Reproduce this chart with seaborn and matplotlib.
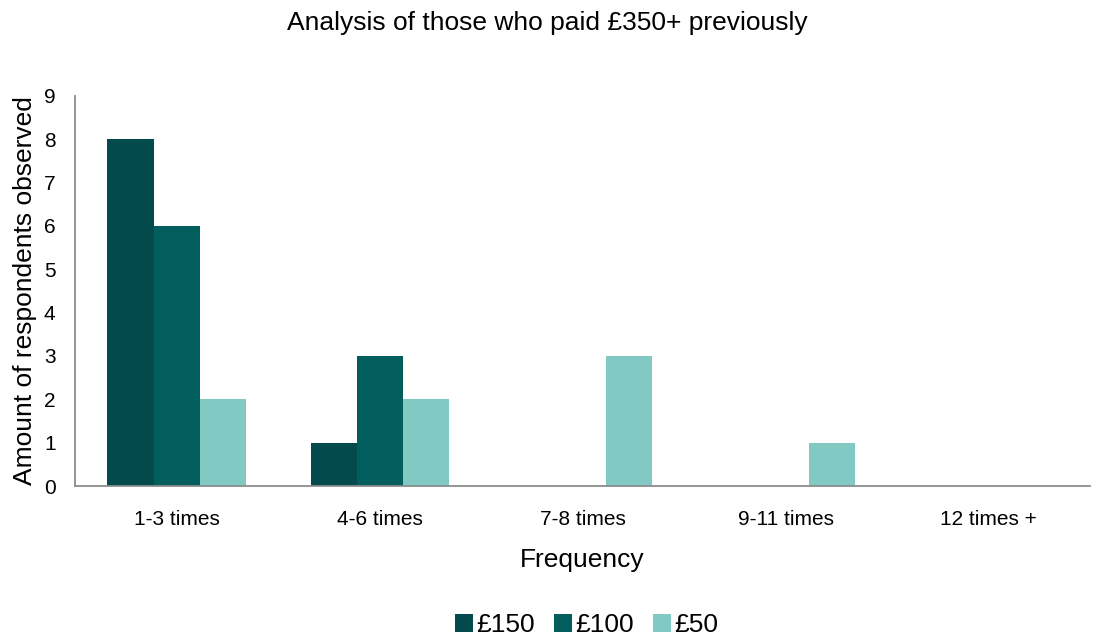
import matplotlib
matplotlib.use("Agg")
import matplotlib.pyplot as plt
import seaborn as sns
import pandas as pd

frequencies = ["1-3 times", "4-6 times", "7-8 times", "9-11 times", "12 times +"]
price_levels = ["£150", "£100", "£50"]
counts_150 = [8, 1, 0, 0, 0]
counts_100 = [6, 3, 0, 0, 0]
counts_50 = [2, 2, 3, 1, 0]
colors = ["#024a4b", "#025e5c", "#81c9c2"]
y_ticks = list(range(0, 10))

rows = []
for level, vals in zip(price_levels, [counts_150, counts_100, counts_50]):
    for freq, v in zip(frequencies, vals):
        rows.append({"Frequency": freq, "Price": level, "Count": v})
df = pd.DataFrame(rows)

sns.set_theme(style="white")
plt.rcParams["font.family"] = ["Liberation Sans", "DejaVu Sans"]
plt.rcParams["text.color"] = "#000000"
plt.rcParams["axes.labelcolor"] = "#000000"

fig = plt.figure(figsize=(10.95, 6.35), dpi=100)
ax = fig.add_axes([0.0685, 0.2346, 0.927, 0.6145])

sns.barplot(data=df, x="Frequency", y="Count", hue="Price", order=frequencies,
            hue_order=price_levels, palette=colors, width=0.68, saturation=1,
            linewidth=0, ax=ax, legend=True)

ax.set_ylim(0, 9)
ax.set_yticks(y_ticks)
ax.set_xlim(-0.5, len(frequencies) - 0.5)
ax.tick_params(axis="both", length=0, labelsize=15, colors="#000000")
ax.tick_params(axis="x", pad=17)
ax.tick_params(axis="y", pad=14)
for side in ["top", "right"]:
    ax.spines[side].set_visible(False)
for side in ["left", "bottom"]:
    ax.spines[side].set_color("#8c8c8c")
    ax.spines[side].set_linewidth(1.3)

ax.set_xlabel("Frequency", fontsize=19, labelpad=14)
ax.set_ylabel("Amount of respondents observed", fontsize=19, labelpad=5)
fig.suptitle("Analysis of those who paid £350+ previously", fontsize=19, y=0.983)

ax.legend(loc="upper center", bbox_to_anchor=(0.504, -0.298), ncol=3, frameon=False,
          fontsize=19, handlelength=0.68, handleheight=0.68, handletextpad=0.15,
          columnspacing=0.7, borderaxespad=0)

fig.savefig("out.png", dpi=100)
